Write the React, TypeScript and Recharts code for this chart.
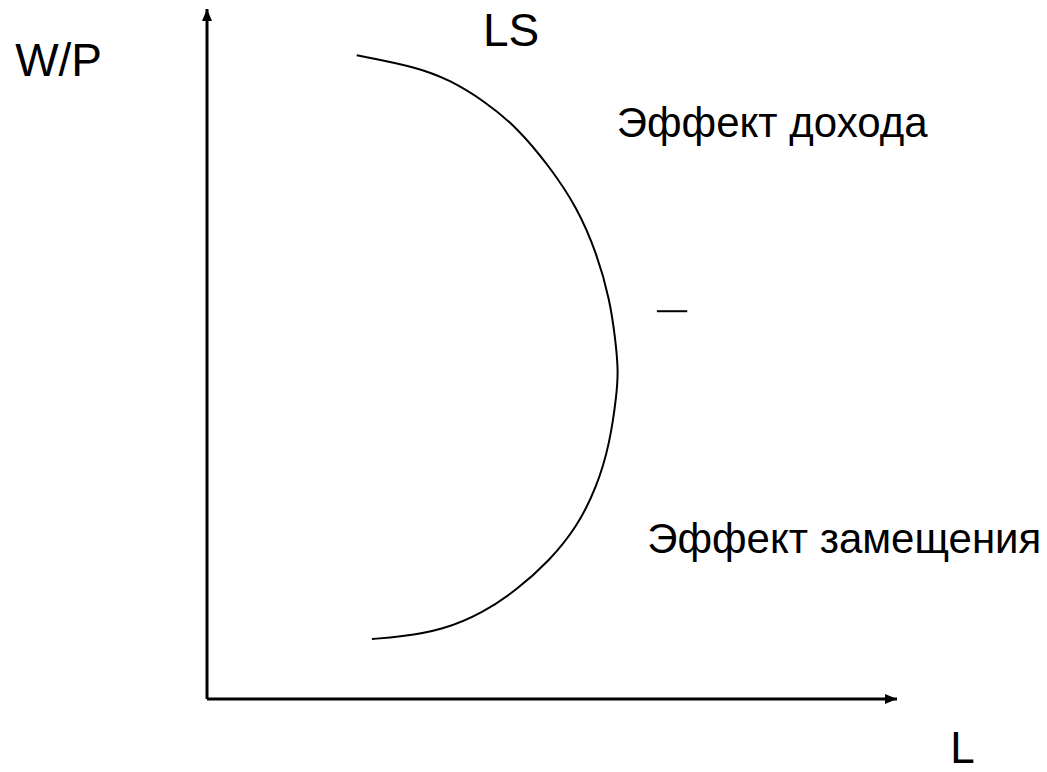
import { LineChart, Line, XAxis, YAxis, ReferenceDot, ReferenceLine } from 'recharts'

// labour supply curve LS (L on x, W/P on y, both 0..100)
const lsL = [21.7, 30.4, 35.2, 40.0, 44.9, 49.7, 53.6, 56.5, 58.4, 59.2, 59.6, 59.4, 58.4, 56.5, 53.6, 49.7, 44.9, 40.0, 34.2, 28.0, 23.9]
const lsW = [93.3, 91.6, 89.7, 86.8, 82.9, 77.1, 71.3, 64.6, 57.8, 52.0, 47.7, 44.3, 37.1, 30.7, 24.9, 20.1, 15.8, 12.5, 10.0, 9.0, 8.7]

// text annotations and their anchor points (data units)
const labelText = ['W/P', 'LS', 'Эффект дохода', 'Эффект замещения', 'L']
const labelL = [-27.8, 40.0, 59.4, 63.8, 107.7]
const labelW = [90.3, 94.6, 81.4, 21.2, -9.3]
const labelSize = [46, 46, 42, 42, 44]

// the small dash to the right of the curve
const dashL = [65.2, 69.6]
const dashW = 56.2

const lsData = lsL.map((l, i) => ({ L: l, W: lsW[i] }))

const FONT = '"Liberation Sans", Arial, sans-serif'

const TextShape = (text: string, size: number) => (props: any) => (
  <text x={props.cx} y={props.cy} fontSize={size} fontFamily={FONT} fill="#000">
    {text}
  </text>
)

// arrow heads at the ends of the axes
const ArrowRight = (props: any) => (
  <polygon
    points={`${props.cx},${props.cy} ${props.cx - 12},${props.cy - 5} ${props.cx - 12},${props.cy + 5}`}
    fill="#000"
  />
)
const ArrowUp = (props: any) => (
  <polygon
    points={`${props.cx},${props.cy} ${props.cx - 5},${props.cy + 12} ${props.cx + 5},${props.cy + 12}`}
    fill="#000"
  />
)

export default function App() {
  return (
    <div style={{ position: 'absolute', left: 0, top: 0, width: 1047, height: 772, background: '#fff' }}>
      <LineChart
        width={1047}
        height={772}
        data={lsData}
        margin={{ top: 9, right: 150, bottom: 72, left: 206 }}
      >
        <XAxis
          type="number"
          dataKey="L"
          domain={[0, 100]}
          allowDataOverflow
          height={1}
          tick={false}
          tickLine={false}
          axisLine={{ stroke: '#000', strokeWidth: 3 }}
        />
        <YAxis
          type="number"
          domain={[0, 100]}
          allowDataOverflow
          width={1}
          tick={false}
          tickLine={false}
          axisLine={{ stroke: '#000', strokeWidth: 3 }}
        />
        <Line
          type="basis"
          dataKey="W"
          stroke="#000"
          strokeWidth={2}
          dot={false}
          activeDot={false}
          isAnimationActive={false}
        />
        <ReferenceLine
          segment={[{ x: dashL[0], y: dashW }, { x: dashL[1], y: dashW }]}
          stroke="#000"
          strokeWidth={2}
          ifOverflow="visible"
        />
        <ReferenceDot x={100} y={0} ifOverflow="visible" shape={ArrowRight} />
        <ReferenceDot x={0} y={100} ifOverflow="visible" shape={ArrowUp} />
        {labelText.map((t, i) => (
          <ReferenceDot key={t} x={labelL[i]} y={labelW[i]} ifOverflow="visible" shape={TextShape(t, labelSize[i])} />
        ))}
      </LineChart>
    </div>
  )
}
